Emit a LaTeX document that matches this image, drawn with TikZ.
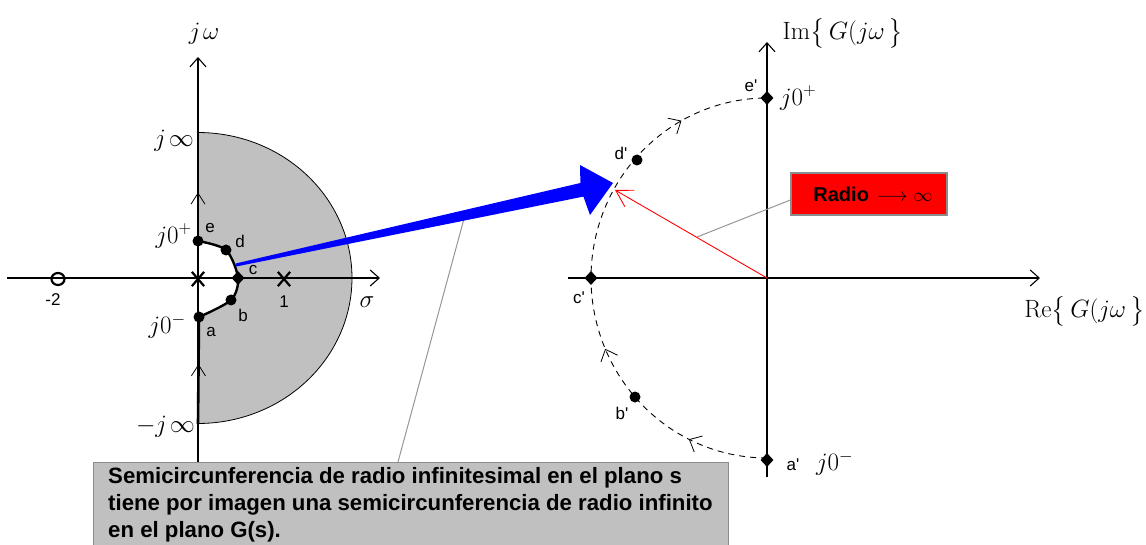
\RequirePackage{fix-cm}
\documentclass[tikz,border=0pt]{standalone}
\usepackage{fontspec}
\usepackage{amsmath}
\newfontfamily\lblfont{Liberation Sans}
\usetikzlibrary{arrows.meta,decorations.markings,shapes.geometric,shapes.misc}
\definecolor{shadegray}{RGB}{192,192,192}
\definecolor{boxedge}{RGB}{140,140,140}
\definecolor{bluearrow}{RGB}{0,0,255}
\definecolor{pointer}{RGB}{150,150,150}
\tikzset{
  ax/.style={line width=1.1pt, -{Straight Barb[length=9pt,width=16pt,line width=1.1pt]}},
  dotc/.style={circle,fill=black,inner sep=0pt,minimum size=11pt},
  dotd/.style={diamond,fill=black,inner sep=0pt,minimum width=13pt,minimum height=14pt},
  sl/.style={font=\lblfont\fontsize{17}{19}\selectfont, inner sep=0pt},
  ml/.style={font=\fontsize{25}{27}\selectfont, inner sep=0pt},
  bigml/.style={font=\fontsize{25}{27}\selectfont, inner sep=0pt},
  thickjw/.style={line width=2.6pt},
  upmark/.style={postaction={decorate}, decoration={markings, mark=at position #1 with {\arrow{Straight Barb[length=11pt,width=14pt,line width=0.8pt]}}}},
  pole/.style={cross out,draw,line width=2.2pt,minimum width=10pt,minimum height=12pt,inner sep=0pt},
}
\begin{document}
\begin{tikzpicture}[x=1pt,y=-1pt]
\useasboundingbox (0,0) rectangle (1146,545);

% ---------------- s-plane ----------------
\fill[shadegray] plot[domain=-90:90,samples=120] ({198+154*cos(\x)},{278+145.5*sin(\x)}) -- cycle;
\draw[line width=0.8pt] plot[domain=-90:90,samples=120] ({198+154*cos(\x)},{278+145.5*sin(\x)});
\fill[white] plot[smooth] coordinates {(198,241) (226,250) (238,278) (231,300) (198,317)} -- cycle;

\coordinate (Lleft) at (7,278);
\coordinate (Lright) at (380,278);
\coordinate (Lbot) at (198,462);
\coordinate (Ltop) at (198,57);
\draw[ax] (Lleft) -- (Lright);
\draw[ax] (Lbot) -- (Ltop);

\coordinate (jinf) at (198,133);
\coordinate (mjinf) at (198,424);

\node[dotc] (e) at (198,241) {};
\node[dotc] (d) at (226,250) {};
\node[dotd] (c) at (238,278) {};
\node[dotc] (b) at (231,300) {};
\node[dotc] (a) at (199,317) {};

\draw[thickjw, upmark=0.45] (e.center) -- (jinf);
\draw[thickjw, upmark=0.56] (mjinf) -- (a.center);
\draw[line width=2.4pt] plot[smooth] coordinates {(198,241) (226,250) (238,278) (231,300) (199,317)};

\node[pole] (p0) at (198,279) {};
\node[pole] (p1) at (284,279) {};
\node[ellipse,draw,line width=2.2pt,minimum width=13pt,minimum height=12pt,inner sep=0pt] (z2) at (58,279) {};

\node[sl] (lm2) at (53,300) {-2};
\node[sl] (l1) at (284,302) {1};
\node[sl] (le) at (210,228) {e};
\node[sl] (ld) at (240,241) {d};
\node[sl] (lc) at (253,270) {c};
\node[sl] (lb) at (243,315) {b};
\node[sl] (la) at (211,332) {a};

\node[ml] (ljw) at (204,34) {$j\mkern2mu\omega$};
\node[ml,anchor=east] (ljinf) at (194,141) {$j\mkern2mu\infty$};
\node[ml,anchor=east] (ljp) at (192,236) {$j0^{+}$};
\node[ml,anchor=east] (ljm) at (186,326) {$j0^{-}$};
\node[ml,anchor=east] (lmjinf) at (195,427) {$-j\mkern2mu\infty$};
\node[ml] (lsig) at (367,302) {$\sigma$};

% ---------------- G-plane ----------------
\coordinate (O) at (767,278);
\coordinate (Rleft) at (568,278);
\coordinate (Rright) at (1040,278);
\coordinate (Rbot) at (767,477);
\coordinate (Rtop) at (767,42);
\draw[ax] (Rleft) -- (Rright);
\draw[ax] (Rbot) -- (Rtop);

\draw[line width=0.9pt, dash pattern=on 6pt off 5pt,
  postaction={decorate},
  decoration={markings,
    mark=at position 0.145 with {\arrow{Straight Barb[length=10pt,width=18pt,line width=0.8pt]}},
    mark=at position 0.37 with {\arrow{Straight Barb[length=10pt,width=18pt,line width=0.8pt]}},
    mark=at position 0.84 with {\arrow{Straight Barb[length=10pt,width=18pt,line width=0.8pt]}}}]
  plot[domain=90:270,samples=120] ({767+176*cos(\x)},{278+180*sin(\x)});

\node[dotd] (ep) at (767,98) {};
\node[dotc] (dp) at (637,160) {};
\node[dotd] (cp) at (591,278) {};
\node[dotc] (bp) at (635,397) {};
\node[dotd] (ap) at (767,460) {};

\node[sl] (lep) at (751,86) {e'};
\node[sl] (ldp) at (621,153) {d'};
\node[sl] (lcp) at (579,298) {c'};
\node[sl] (lbp) at (622,413) {b'};
\node[sl] (lap) at (793,465) {a'};

\node[ml,anchor=west] (rjp) at (780,98) {$j0^{+}$};
\node[ml,anchor=west] (rjm) at (816,463) {$j0^{-}$};
\node[bigml,anchor=base] (lim) at (843,40) {$\mathrm{Im}\smash{\bigl\{}\,G(j\omega\,\smash{\bigr\}}$};
\node[bigml,anchor=base east] (lre) at (1145,318) {$\mathrm{Re}\smash{\bigl\{}\,G(j\omega\,\smash{\bigr\}}$};

% red radius
\coordinate (rtip) at (615,190);
\coordinate (rmid) at (697,237);
\draw[red, line width=0.9pt, -{Straight Barb[length=16pt,width=19pt,line width=0.9pt]}] (O) -- (rtip);

\node[fill=red, draw=boxedge, line width=1.2pt, minimum width=156pt, minimum height=42pt, inner sep=0pt] (radio) at (869,194) {};
\node[inner sep=0pt] (radiotext) at (873,194) {\lblfont\bfseries\fontsize{20}{22}\selectfont Radio\hspace{8pt}\fontsize{19}{21}\selectfont$\longrightarrow$\hspace{6pt}$\infty$};
\draw[pointer, line width=1pt] ([yshift=-6pt]radio.west) -- (rmid);

% note box
\coordinate (npt) at (398,462);
\coordinate (bpt) at (465,215);
\draw[pointer, line width=1pt] (npt) -- (bpt);
\node[fill=shadegray, draw=boxedge, line width=1.2pt, anchor=north west, minimum width=635pt, minimum height=100pt, inner sep=0pt] (note) at (93,462) {};
\node[anchor=north west, align=left, inner sep=0pt, font=\lblfont\bfseries\fontsize{22.2}{27}\selectfont] (notetext) at (108,467)
  {Semicircunferencia de radio infinitesimal en el plano s\\
   tiene por imagen una semicircunferencia de radio infinito\\
   en el plano G(s).};

% blue arrow
\fill[bluearrow] (235.7,263.5) -- (580.4,183) -- (580,165) -- (613,183) -- (590,215) -- (583.4,196.6) -- (236.3,266.5) -- cycle;
\end{tikzpicture}
\end{document}
